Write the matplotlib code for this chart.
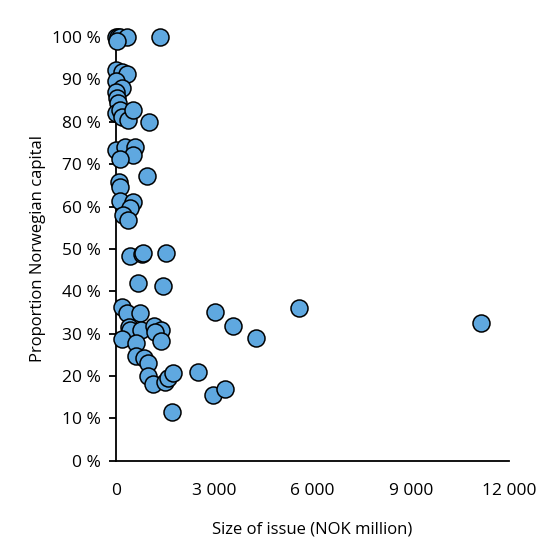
import matplotlib.pyplot as plt
import matplotlib.ticker as mticker

plt.rcParams['font.family'] = ['Open Sans', 'DejaVu Sans']

# size of issue (NOK million) and share of Norwegian capital
size_nok = [10, 60, 120, 330, 1345, 30,
            0, 175, 325, 0, 175, 0, 20, 70, 0, 120, 175, 375, 530, 1015,
            0, 275, 580, 530, 120,
            935, 100, 120, 120, 530, 430, 225, 375,
            430, 785, 835, 1525,
            660, 1445,
            175, 345, 735, 405, 430, 755, 175, 610, 1160, 1365, 1190, 1365,
            610, 865, 985, 985, 1140, 1495, 1595, 1750, 1700,
            2500, 2960, 3330, 3020, 3570, 4275, 5590, 11135]
share_norw = [1.00, 1.00, 1.00, 1.00, 1.00, 0.99,
              0.922, 0.918, 0.912, 0.895, 0.879, 0.871, 0.855, 0.844, 0.820, 0.828, 0.812, 0.804, 0.828, 0.800,
              0.733, 0.741, 0.741, 0.722, 0.712,
              0.671, 0.659, 0.646, 0.612, 0.610, 0.596, 0.580, 0.568,
              0.483, 0.487, 0.490, 0.490,
              0.419, 0.413,
              0.364, 0.348, 0.350, 0.315, 0.309, 0.309, 0.287, 0.279, 0.317, 0.309, 0.303, 0.283,
              0.248, 0.242, 0.232, 0.200, 0.182, 0.185, 0.195, 0.207, 0.116,
              0.210, 0.156, 0.170, 0.351, 0.318, 0.290, 0.361, 0.326]

fig = plt.figure(figsize=(5.6, 5.6), dpi=100)
ax = fig.add_axes([0.207, 0.177, 0.702, 0.757])

ax.scatter(size_nok, share_norw, s=150, facecolor='#5fa8e0', edgecolor='black',
           linewidth=1.1, clip_on=False, zorder=3)

ax.set_xlim(0, 12000)
ax.set_ylim(0, 1)
ax.set_xticks([0, 3000, 6000, 9000, 12000])
ax.set_yticks([i / 10 for i in range(11)])
ax.xaxis.set_major_formatter(mticker.FuncFormatter(lambda v, p: f'{int(v):,}'.replace(',', ' ')))
ax.yaxis.set_major_formatter(mticker.FuncFormatter(lambda v, p: f'{round(v * 100)} %'))

ax.spines['top'].set_visible(False)
ax.spines['right'].set_visible(False)
for s in ('left', 'bottom'):
    ax.spines[s].set_linewidth(1.3)
ax.tick_params(axis='y', length=5, width=1.3, labelsize=12.5, pad=6)
ax.tick_params(axis='x', length=0, labelsize=12.5, pad=16)

ax.set_xlabel('Size of issue (NOK million)', fontsize=12, labelpad=16)
ax.set_ylabel('Proportion Norwegian capital', fontsize=12, labelpad=4)

fig.savefig('out.png', dpi=100)
